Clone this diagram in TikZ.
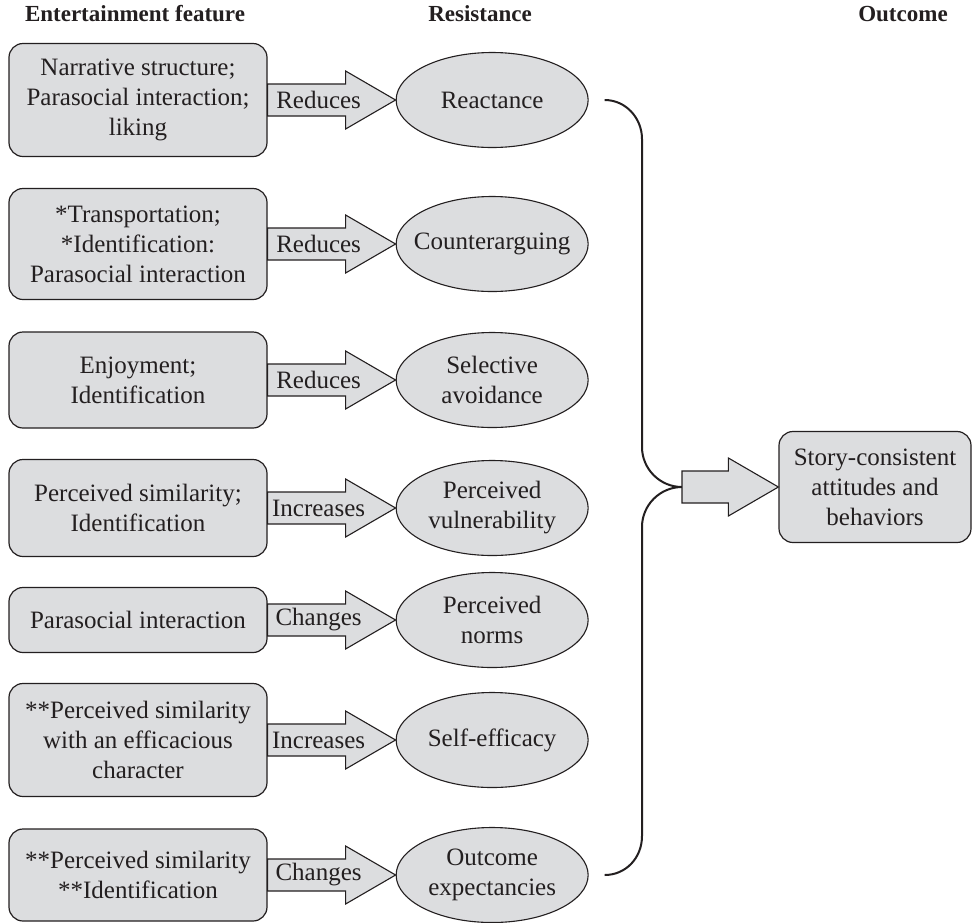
\documentclass[tikz,border=0pt]{standalone}
\usepackage{fontspec}
\setmainfont{Liberation Serif}
\usepackage{tikz}
\usetikzlibrary{positioning,shapes.geometric}
\definecolor{BoxFill}{HTML}{DCDDDF}
\definecolor{InkGray}{HTML}{231F20}

% block arrow from a point to the west side of a node, with its verb
\newcommand{\blockarrow}[3]{%
  \draw[barrow] ([yshift=16pt]#1) -- ([xshift=-50pt,yshift=16pt]#2.west)
    -- ([xshift=-50pt,yshift=29pt]#2.west) -- (#2.west)
    -- ([xshift=-50pt,yshift=-29pt]#2.west) -- ([xshift=-50pt,yshift=-16pt]#2.west)
    -- ([yshift=-16pt]#1) -- cycle;
  \node[verb] at ([xshift=51pt]#1) {#3};}

\begin{document}
\begin{tikzpicture}[
  x=1pt, y=-1pt,
  font=\fontsize{25}{30}\selectfont,
  text=InkGray,
  % ── entertainment feature (rounded box) ─────────────────────────────────
  feat/.style={
    draw=InkGray, fill=BoxFill, line width=1.2pt,
    rounded corners=14pt, minimum width=258pt,
    align=center, inner sep=2pt
  },
  % ── resistance (ellipse) ────────────────────────────────────────────────
  resist/.style={
    ellipse, draw=InkGray, fill=BoxFill, line width=1.1pt,
    minimum width=192pt, minimum height=95pt,
    inner xsep=-20pt, inner ysep=0pt, align=center
  },
  % ── column headings ─────────────────────────────────────────────────────
  head/.style={font=\fontsize{23}{28}\selectfont\bfseries},
  % ── arrows ──────────────────────────────────────────────────────────────
  barrow/.style={draw=InkGray, fill=BoxFill, line width=1.1pt, line join=miter},
  verb/.style={inner sep=0pt},
  brace/.style={draw=InkGray, line width=2pt},
]
\useasboundingbox (0,0) rectangle (975,922);

%% ── Column headings ──
\node[head] (H1) at (135,14) {Entertainment feature};
\node[head] (H2) at (480,14) {Resistance};
\node[head] (H3) at (903,14) {Outcome};

%% ── Entertainment features (left column) ──
\node[feat, minimum height=113pt] (NAR) at (138,100)
      {Narrative structure;\\Parasocial interaction;\\liking};
\node[feat, minimum height=111pt] (TRA) at (138,244)
      {*Transportation;\\*Identification:\\Parasocial interaction};
\node[feat, minimum height=96pt]  (ENJ) at (138,380)
      {Enjoyment;\\Identification};
\node[feat, minimum height=97pt]  (SIM) at (138,508)
      {Perceived similarity;\\Identification};
\node[feat, minimum height=65pt]  (PAR) at (138,620)
      {Parasocial interaction};
\node[feat, minimum height=113pt] (EFF) at (138,740)
      {**Perceived similarity\\with an efficacious\\character};
\node[feat, minimum height=92pt]  (IDN) at (138,875)
      {**Perceived similarity\\**Identification};

%% ── Resistance (middle column) ──
\node[resist] (REA) [right=128pt of NAR] {Reactance};
\node[resist] (CNT) [right=128pt of TRA] {Counterarguing};
\node[resist] (SEL) [right=128pt of ENJ] {Selective\\avoidance};
\node[resist] (VUL) [right=128pt of SIM] {Perceived\\vulnerability};
\node[resist] (NRM) [right=128pt of PAR] {Perceived\\norms};
\node[resist] (SEF) [right=128pt of EFF] {Self-efficacy};
\node[resist] (EXP) [right=128pt of IDN] {Outcome\\expectancies};

%% ── Outcome ──
\node[feat, minimum width=192pt, minimum height=111pt] (OUT) at (875,487)
      {Story-consistent\\attitudes and\\behaviors};

%% ── Block arrows ──
\blockarrow{NAR.east}{REA}{Reduces}
\blockarrow{TRA.east}{CNT}{Reduces}
\blockarrow{ENJ.east}{SEL}{Reduces}
\blockarrow{SIM.east}{VUL}{Increases}
\blockarrow{PAR.east}{NRM}{Changes}
\blockarrow{EFF.east}{SEF}{Increases}
\blockarrow{IDN.east}{EXP}{Changes}

%% ── Brace gathering the resistances ──
\coordinate (join) at (682,487);
\coordinate (spine) at (642,487);
\draw[brace] ([xshift=16pt]REA.east)
    .. controls +(21,0) and +(0,-21) .. ([yshift=-39pt]spine |- REA.east)
    -- ([yshift=40pt]spine)
    .. controls +(0,22) and +(-22,0) .. (join)
    .. controls +(-22,0) and +(0,-22) .. ([yshift=-40pt]spine)
    -- ([yshift=39pt]spine |- EXP.east)
    .. controls +(0,22) and +(21,0) .. ([xshift=16pt]EXP.east);

\blockarrow{join}{OUT}{}

\end{tikzpicture}
\end{document}
